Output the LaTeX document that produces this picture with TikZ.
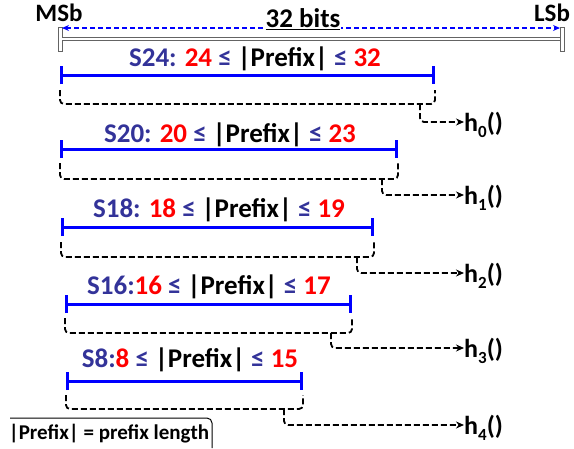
\documentclass[tikz,border=0pt]{standalone}
\usepackage{fontspec}
\setmainfont{Carlito}
\usetikzlibrary{arrows.meta}
\definecolor{dblue}{RGB}{51,51,153}
\definecolor{lblue}{RGB}{0,0,255}
\definecolor{lred}{RGB}{255,0,0}
\definecolor{bargray}{RGB}{100,100,100}
\newcommand\rng[3]{{\color{dblue}#1}{\color{lred}#2}\ {\color{dblue}≤}\ |Prefix|\ {\color{dblue}≤}\ {\color{lred}#3}}
\newcommand\hf[1]{h\raisebox{-0.45ex}{\fontsize{17}{17}\selectfont #1}()}
\begin{document}
\begin{tikzpicture}[x=1pt,y=-1pt,
  lbl/.style={font=\fontsize{27}{30}\selectfont\bfseries, inner sep=0pt},
  toplbl/.style={font=\fontsize{25}{28}\selectfont\bfseries, inner sep=0pt},
  hlbl/.style={font=\fontsize{26}{28}\selectfont\bfseries, inner sep=0pt, anchor=west},
  rangeline/.style={draw=lblue, line width=3pt, {Bar[width=18pt,line width=3pt]}-{Bar[width=18pt,line width=3pt]}},
  brk/.style={draw=black, dash pattern=on 6pt off 3pt, line width=1.8pt, rounded corners=4pt},
  hook/.style={brk, -{Stealth[length=8pt,width=7pt]}},
  endcap/.style={draw=bargray, fill=white, line width=0.8pt, minimum width=4pt, minimum height=24pt, inner sep=0pt},
  bitarrow/.style={draw=lblue, line width=1.6pt, dash pattern=on 5pt off 3pt, {Stealth[length=7pt,width=6pt]}-{Stealth[length=7pt,width=6pt]}}
]
\useasboundingbox (0,0) rectangle (574,448);

% 32-bit word
\node[toplbl] (msb) at (59,13) {MSb};
\node[toplbl] (lsb) at (552,13) {LSb};
\node[endcap] (capL) at (60,39) {};
\node[endcap] (capR) at (562,39) {};
\draw[draw=bargray, line width=1pt, double=white, double distance=2pt] (capL.east) -- (capR.west);
\coordinate (aL) at (62,28);
\coordinate (aR) at (560,28);
\draw[bitarrow] (aL) -- (aR);
\node[fill=white, inner sep=1pt, font=\fontsize{27}{30}\selectfont\bfseries] (bits) at (303,19) {\underline{32 bits}};

% rows
\foreach \i/\xl/\yl/\xa/\xb/\yline/\ybt/\ybb/\xt/\yk/\txt in {
  0/255/59/60/435/75/90/104/420/122/{\rng{S24: }{24}{32}},
  1/230/135/60/398/149/163/179/382/195/{\rng{S20: }{20}{23}},
  2/219/210/61/374/227/242/257/357/273/{\rng{S18: }{18}{19}},
  3/209/287/65/352/304/318/333/331/348/{\rng{S16:}{16}{17}},
  4/190/360/66/303/381/395/409/284/425/{\rng{S8:}{8}{15}}}
{
  \node[lbl] (L\i) at (\xl,\yl) {\txt};
  \coordinate (a\i) at (\xa,\yline);
  \coordinate (b\i) at (\xb,\yline);
  \draw[rangeline] (a\i) -- (b\i);
  \coordinate (p\i) at (\xa,\ybt);
  \coordinate (q\i) at (\xb,\ybt);
  \draw[brk] (p\i) -- (\xa,\ybb) -- (\xb,\ybb) -- (q\i);
  \coordinate (t\i) at (\xt,\ybb);
  \coordinate (k\i) at (\xt,\yk);
  \node[hlbl] (h\i) at (464,\yk+3) {\hf{\i}};
  \draw[hook] (t\i) -- (k\i) -- (k\i -| h\i.west);
}

% legend
\node[font=\fontsize{21}{24}\selectfont\bfseries, inner sep=0pt] (leg) at (109,434) {|Prefix| = prefix length};
\coordinate (f1) at (10,418);
\coordinate (f2) at (212,448);
\draw[line width=1pt, rounded corners=5pt] (f1) -- (f1 -| f2) -- (f2);
\end{tikzpicture}
\end{document}
